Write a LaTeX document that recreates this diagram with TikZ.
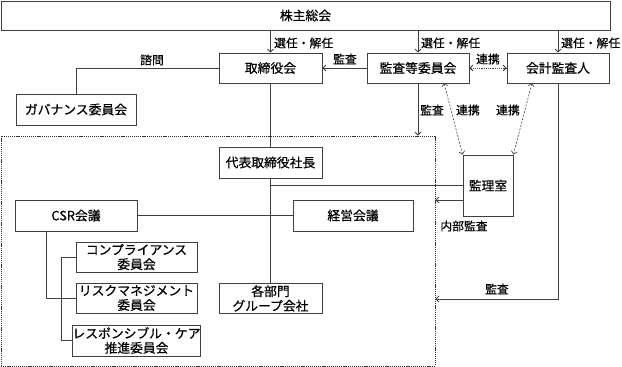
\documentclass[tikz,border=0pt]{standalone}
\usepackage{fontspec}
\setmainfont{Noto Sans CJK JP}
\newfontfamily\jpfont{Noto Sans CJK JP}[FakeBold=0.6]
\usetikzlibrary{arrows.meta}
\begin{document}
\begin{tikzpicture}[x=1pt,y=-1pt,
  box/.style={draw=black!75, line width=0.8pt, inner sep=0pt, align=center,
    font=\jpfont\fontsize{12.8}{14.5}\selectfont},
  lbl/.style={inner sep=0pt, font=\jpfont\fontsize{11.8}{13}\selectfont},
  conn/.style={draw=black!75, line width=0.8pt},
  arr/.style={conn, -{Straight Barb[length=3pt,width=6pt]}},
  darr/.style={conn, {Straight Barb[length=3pt,width=6pt]}-{Straight Barb[length=3pt,width=6pt]}},
  region/.style={draw=black!80, line width=0.8pt, dash pattern=on 1.2pt off 0.9pt}
]
\useasboundingbox (0,0) rectangle (622,367);
% region
\node[region, minimum width=434pt, minimum height=230pt, inner sep=0pt] (reg) at (218,251) {};
% boxes
\node[box, minimum width=609pt, minimum height=29pt] (shm) at (305.5,15.5) {株主総会};
\node[box, minimum width=103pt, minimum height=30pt] (tori) at (270.5,68) {取締役会};
\node[box, minimum width=102pt, minimum height=30pt] (kansa) at (418,68) {監査等委員会};
\node[box, minimum width=102pt, minimum height=30pt] (kaikei) at (558,68) {会計監査人};
\node[box, minimum width=120pt, minimum height=31pt] (gov) at (76,109.5) {ガバナンス委員会};
\node[box, minimum width=103pt, minimum height=31pt] (daihyo) at (270.5,162.5) {代表取締役社長};
\node[box, minimum width=50pt, minimum height=61pt] (kanri) at (488,185.5) {監理室};
\node[box, minimum width=122pt, minimum height=31pt] (csr) at (76,215.5) {CSR会議};
\node[box, minimum width=120pt, minimum height=31pt] (keiei) at (353,215.5) {経営会議};
\node[box, minimum width=121pt, minimum height=30pt] (comp) at (136.5,257) {コンプライアンス\\委員会};
\node[box, minimum width=121pt, minimum height=30pt] (risk) at (136.5,298) {リスクマネジメント\\委員会};
\node[box, minimum width=121pt, minimum height=31pt] (resp) at (136.5,340.5) {レスポンシブル・ケア\\推進委員会};
\node[box, minimum width=103pt, minimum height=30pt] (bumon) at (270.5,298.5) {各部門\\グループ会社};
% coordinates
\coordinate (tk) at (270.5,185);
\coordinate (gc) at (76,68);
\coordinate (kb1) at (444,83);
\coordinate (kb2) at (532,83);
\coordinate (kp) at (558,299);
\coordinate (cs) at (46,231);
\coordinate (cb) at (46,298);
\coordinate (bt) at (61,257);
\coordinate (bb) at (61,340.5);
% connectors
\draw[arr] (shm.south -| tori) -- (tori.north);
\draw[arr] (shm.south -| kansa) -- (kansa.north);
\draw[arr] (shm.south -| kaikei) -- (kaikei.north);
\node[lbl, anchor=west] (l1) at (274,43) {選任・解任};
\node[lbl, anchor=west] (l2) at (421,43) {選任・解任};
\node[lbl, anchor=west] (l3) at (561,43) {選任・解任};
\draw[arr] (kansa.west) -- (tori.east);
\node[lbl] (l4) at (345,59) {監査};
\draw[darr, dash pattern=on 1.2pt off 1pt] (kansa.east) -- (kaikei.west);
\node[lbl] (l5) at (488,59) {連携};
\draw[conn] (tori.west) -- (gc) -- (gov.north);
\node[lbl] (l6) at (152,60) {諮問};
\draw[arr] (kansa.south) -- (kansa.south |- reg.north);
\node[lbl] (l7) at (432,110) {監査};
\draw[darr, dash pattern=on 2pt off 1.5pt, line width=0.6pt] (kanri.north west) -- (kb1);
\draw[darr, dash pattern=on 2pt off 1.5pt, line width=0.6pt] (kanri.north east) -- (kb2);
\node[lbl] (l8) at (468,110) {連携};
\node[lbl] (l9) at (508,110) {連携};
\draw[conn] (tori.south) -- (daihyo.north);
\draw[conn] (daihyo.south) -- (bumon.north);
\draw[conn] (tk) -- (kanri.west |- tk);
\draw[arr] (kanri.west |- 0,200) -- (reg.east |- 0,200);
\node[lbl] (l10) at (464,226) {内部監査};
\draw[arr] (kaikei.south) -- (kp) -- (reg.east |- kp);
\node[lbl] (l11) at (497,289) {監査};
\draw[conn] (csr.east) -- (keiei.west);
\draw[conn] (cs) -- (cb) -- (risk.west);
\draw[conn] (comp.west) -- (bt) -- (bb) -- (resp.west);
\end{tikzpicture}
\end{document}
